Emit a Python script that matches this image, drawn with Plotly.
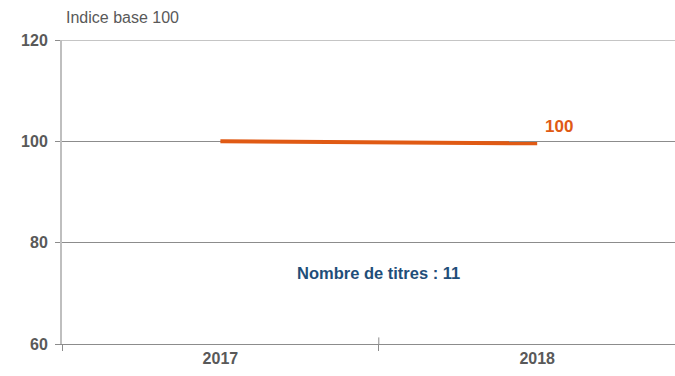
import plotly.graph_objects as go

# Index values (base 100)
years = ["2017", "2018"]
index_values = [100.0, 99.6]
end_label = "100"
note_text = "Nombre de titres : 11"
y_title = "Indice base 100"
y_ticks = [60, 80, 100, 120]

ORANGE = "#E05A14"
NAVY = "#1F4E79"
GREY = "#595959"
LINE_GREY = "#8c8c8c"
FONT = "Liberation Sans Narrow, Arial Narrow, Liberation Sans, Arial, sans-serif"

fig = go.Figure()
fig.add_trace(go.Scatter(
    x=years, y=index_values, mode="lines",
    line=dict(color=ORANGE, width=4),
    hoverinfo="skip", showlegend=False,
))

# value label at the end of the line (category index of the last year)
fig.add_annotation(
    x=len(years) - 1, y=index_values[-1], text=f"<b>{end_label}</b>",
    showarrow=False, xanchor="left", yanchor="bottom",
    xshift=6, yshift=5, font=dict(color=ORANGE, size=17, family=FONT),
)

# note in the middle of the plot
fig.add_annotation(
    x=0.5, y=74, text=f"<b>{note_text}</b>", showarrow=False,
    font=dict(color=NAVY, size=16.5, family=FONT),
)

# axis unit label
fig.add_annotation(
    xref="paper", yref="paper", x=0.003, y=1.04,
    text=y_title, showarrow=False, xanchor="left", yanchor="bottom",
    font=dict(color=GREY, size=16, family=FONT),
)

# top gridline at the upper bound of the scale
fig.add_shape(type="line", xref="paper", x0=0, x1=1, y0=y_ticks[-1], y1=y_ticks[-1],
              line=dict(color=LINE_GREY, width=1), layer="below")

# upper half of the category separator tick
fig.add_shape(type="line", x0=0.5, x1=0.5, y0=60, y1=61.3,
              line=dict(color=LINE_GREY, width=1))

fig.update_layout(
    width=675, height=376,
    margin=dict(l=62, r=0, t=40, b=32),
    paper_bgcolor="white", plot_bgcolor="white",
    font=dict(family=FONT),
    xaxis=dict(
        type="category",
        range=[-0.5, 1.435],
        tickvals=years, ticktext=[f"<b>{y}</b>" for y in years],
        tickson="boundaries",
        tickfont=dict(color=GREY, size=16, family=FONT),
        showgrid=False, zeroline=False,
        showline=True, linecolor=LINE_GREY, linewidth=1,
        ticks="outside", ticklen=6, tickcolor=LINE_GREY,
        fixedrange=True,
    ),
    yaxis=dict(
        range=[60, 120], tickvals=y_ticks,
        ticktext=[f"<b>{v}</b>" for v in y_ticks],
        tickfont=dict(color=GREY, size=16, family=FONT),
        showgrid=True, gridcolor=LINE_GREY, gridwidth=1,
        zeroline=False,
        showline=True, linecolor="#bfbfbf", linewidth=2,
        ticks="outside", ticklen=5, tickcolor=LINE_GREY,
        ticklabelstandoff=4,
    ),
)

fig.write_html("out.html")
